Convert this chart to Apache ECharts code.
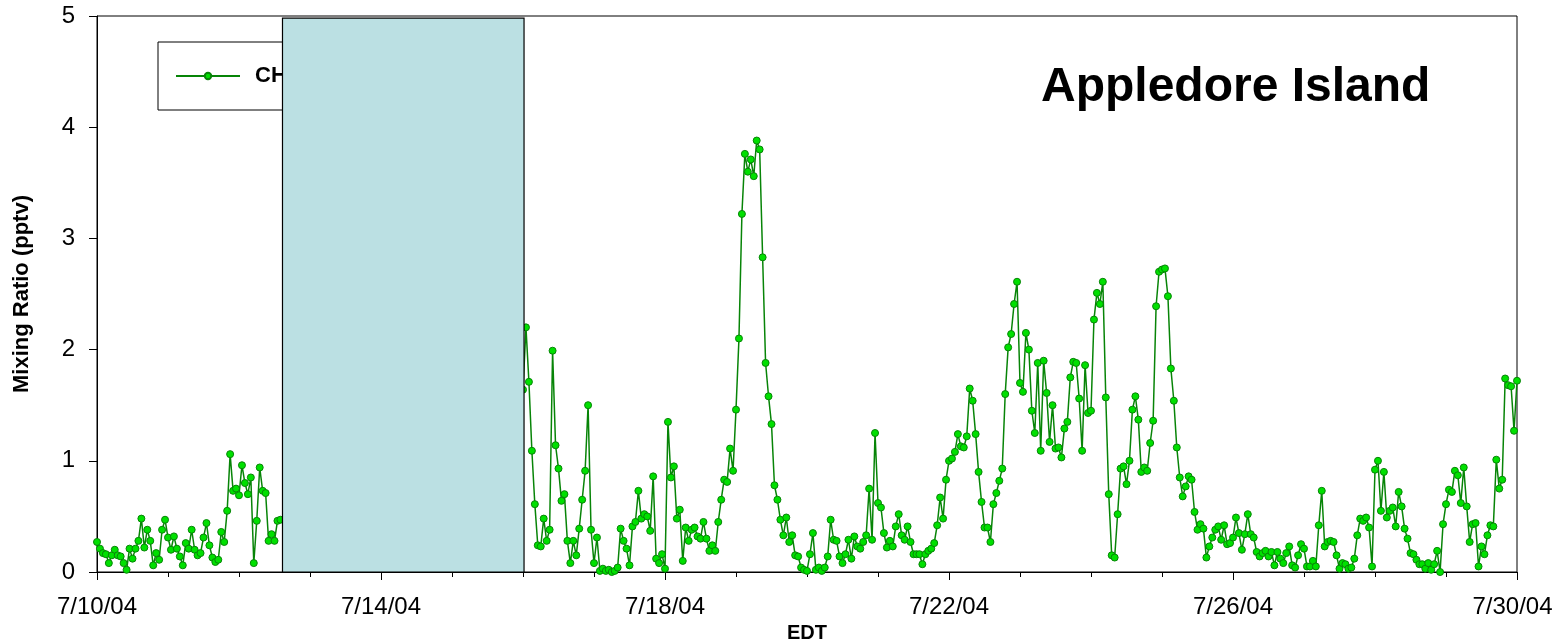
<!DOCTYPE html>
<html>
<head>
<meta charset="utf-8">
<title>Appledore Island</title>
<script src="https://cdn.jsdelivr.net/npm/echarts@6/dist/echarts.min.js"></script>
<style>
  html, body { margin: 0; padding: 0; background: #fff; }
  #chart { width: 1554px; height: 643px; }
</style>
</head>
<body>
<div id="chart"></div>
<script>
// Hourly mixing ratios (pptv), hours counted from 7/10/04 00:00 EDT
const runAStartHour = 0;
const runAValues = [
  0.27, 0.21, 0.17, 0.16, 0.08, 0.15, 0.20, 0.15, 0.14, 0.08,
  0.02, 0.21, 0.12, 0.21, 0.28, 0.48, 0.22, 0.38, 0.28, 0.06,
  0.17, 0.11, 0.38, 0.47, 0.31, 0.20, 0.32, 0.21, 0.14, 0.06,
  0.26, 0.21, 0.38, 0.20, 0.15, 0.17, 0.31, 0.44, 0.24, 0.13,
  0.09, 0.11, 0.36, 0.27, 0.55, 1.06, 0.73, 0.75, 0.69, 0.96,
  0.80, 0.70, 0.85, 0.08, 0.46, 0.94, 0.73, 0.71, 0.28, 0.34,
  0.28, 0.46, 0.47
];

const runBStartHour = 144;
const runBValues = [
  1.64, 2.20, 1.71, 1.09, 0.61, 0.24, 0.23, 0.48, 0.28, 0.38,
  1.99, 1.14, 0.93, 0.64, 0.70, 0.28, 0.08, 0.28, 0.15, 0.39,
  0.65, 0.91, 1.50, 0.38, 0.08, 0.31, 0.01, 0.03, 0.01, 0.02,
  0.00, 0.01, 0.04, 0.39, 0.28, 0.21, 0.06, 0.41, 0.45, 0.73,
  0.48, 0.52, 0.50, 0.37, 0.86, 0.12, 0.08, 0.16, 0.03, 1.35,
  0.85, 0.95, 0.48, 0.56, 0.10, 0.40, 0.28, 0.38, 0.40,
  0.32, 0.30, 0.45, 0.30, 0.19, 0.24, 0.19, 0.45, 0.65, 0.83,
  0.81, 1.11, 0.91, 1.46, 2.10, 3.22, 3.76, 3.60, 3.71, 3.56,
  3.88, 3.80, 2.83, 1.88, 1.58, 1.33, 0.78, 0.65, 0.47, 0.33,
  0.49, 0.27,
  0.33, 0.15, 0.14, 0.04, 0.02, 0.01, 0.16, 0.35, 0.02, 0.04,
  0.01, 0.04, 0.14, 0.47, 0.29, 0.28, 0.14, 0.08, 0.16, 0.29,
  0.12, 0.32, 0.23, 0.21, 0.27, 0.33, 0.75, 0.29, 1.25, 0.62,
  0.58, 0.35, 0.22, 0.28, 0.23, 0.41, 0.52, 0.33, 0.29, 0.41,
  0.27, 0.16, 0.16, 0.16, 0.07, 0.16, 0.19, 0.21, 0.26, 0.42,
  0.67, 0.48, 0.83, 1.00, 1.02, 1.08, 1.24, 1.13,
  1.12, 1.22, 1.65, 1.54, 1.24, 0.90, 0.63, 0.40, 0.40, 0.27,
  0.61, 0.71, 0.82, 0.93, 1.60, 2.02, 2.14, 2.41, 2.61, 1.70,
  1.62, 2.15, 2.00, 1.45, 1.25, 1.88, 1.09, 1.90, 1.61, 1.17,
  1.50, 1.11, 1.12, 1.03, 1.29, 1.35, 1.75,
  1.89, 1.88, 1.56, 1.09, 1.86, 1.43, 1.45, 2.27, 2.51, 2.41,
  2.61, 1.57, 0.70, 0.15, 0.13, 0.52, 0.93, 0.95, 0.79, 1.00,
  1.46, 1.58, 1.37, 0.90, 0.94, 0.91, 1.16, 1.36, 2.39, 2.70,
  2.72, 2.73, 2.48, 1.83, 1.54, 1.12, 0.85, 0.68,
  0.77, 0.86, 0.83, 0.54, 0.38, 0.43, 0.39, 0.13, 0.23, 0.31,
  0.38, 0.41, 0.29, 0.42, 0.25, 0.26, 0.31, 0.49, 0.35, 0.20,
  0.34, 0.52, 0.34,
  0.31, 0.18, 0.14, 0.17, 0.19, 0.14, 0.18, 0.06, 0.18, 0.12,
  0.08, 0.17, 0.23, 0.06, 0.04, 0.15, 0.25, 0.21, 0.05, 0.05,
  0.10, 0.05, 0.42, 0.73, 0.23, 0.27, 0.28, 0.27, 0.15, 0.03,
  0.08, 0.07, 0.03, 0.04, 0.12, 0.33, 0.48, 0.46, 0.49, 0.40,
  0.05, 0.92, 1.00, 0.55, 0.90, 0.49, 0.55, 0.58, 0.41, 0.72,
  0.59, 0.39, 0.30, 0.17, 0.16, 0.11, 0.07, 0.07, 0.03, 0.08,
  0.02, 0.07, 0.19, 0.00, 0.43, 0.61, 0.74, 0.72, 0.91, 0.87,
  0.62, 0.94, 0.59, 0.27, 0.43, 0.44, 0.05, 0.23, 0.16, 0.33,
  0.42, 0.41, 1.01, 0.75, 0.83, 1.74, 1.68, 1.67, 1.27, 1.72
];

// Shaded period: [start hour, end hour, top value]
const shadedPeriod = [62.7, 144.35, 4.98];

const seriesName = 'CHBr3';
const firstDay = 10;      // 7/10/04
const hourSpan = 480;     // through 7/30/04
const labelEveryHours = 96;

const FONT = '"Liberation Sans", Arial, sans-serif';

// Build [hour, value] pairs; a '-' entry breaks the line between runs
const points = [];
runAValues.forEach((v, i) => points.push([runAStartHour + i, v]));
points.push([(runAStartHour + runAValues.length + runBStartHour) / 2, '-']);
runBValues.forEach((v, i) => points.push([runBStartHour + i, v]));

function dateLabel(h) {
  if (h % labelEveryHours !== 0) return '';
  const text = '7/' + (firstDay + h / 24) + '/04';
  // nudge the final label inward so it stays on the canvas
  return h === hourSpan ? '{last|' + text + '}' : text;
}

const chart = echarts.init(document.getElementById('chart'), null, { renderer: 'canvas' });

chart.setOption({
  animation: false,
  backgroundColor: '#ffffff',
  textStyle: { fontFamily: FONT, color: '#000' },
  grid: {
    left: 97, right: 37, top: 16, bottom: 71,
    outerBoundsMode: 'none',
    containLabel: false,
    show: true, borderColor: '#000', borderWidth: 1, backgroundColor: 'transparent'
  },
  title: {
    text: 'Appledore Island',
    left: 1036, top: 59,
    textStyle: { fontFamily: FONT, fontWeight: 'bold', fontSize: 48, color: '#000' }
  },
  legend: {
    data: [seriesName],
    left: 158, top: 42, z: 3,
    itemWidth: 64, itemHeight: 8,
    padding: [23, 20, 23, 17],
    backgroundColor: '#ffffff',
    borderColor: '#000', borderWidth: 1, borderRadius: 0,
    textStyle: { fontFamily: FONT, fontWeight: 'bold', fontSize: 22, color: '#000', padding: [0, 0, 0, 10] }
  },
  xAxis: [
    {
      type: 'value', min: 0, max: hourSpan, interval: labelEveryHours,
      position: 'bottom',
      name: 'EDT', nameLocation: 'middle', nameGap: 43,
      nameTextStyle: { fontFamily: FONT, fontWeight: 'bold', fontSize: 20, color: '#000' },
      axisLine: { onZero: false, lineStyle: { color: '#000', width: 1 } },
      axisTick: { show: true, length: 8, inside: false, lineStyle: { color: '#000', width: 1 } },
      axisLabel: {
        formatter: dateLabel, fontFamily: FONT, fontSize: 24, color: '#000', margin: 23,
        rich: { last: { fontFamily: FONT, fontSize: 24, color: '#000', padding: [0, 9, 0, 0] } }
      },
      splitLine: { show: false }
    },
    {
      type: 'value', min: 0, max: hourSpan, interval: 24,
      position: 'bottom',
      axisLine: { show: false },
      axisTick: { show: true, length: 5, lineStyle: { color: '#000', width: 1 } },
      axisLabel: { show: false },
      splitLine: { show: false }
    }
  ],
  yAxis: {
    type: 'value', min: 0, max: 5, interval: 1,
    name: 'Mixing Ratio (pptv)', nameLocation: 'middle', nameGap: 64,
    nameTextStyle: { fontFamily: FONT, fontWeight: 'bold', fontSize: 22, color: '#000' },
    axisLine: { show: true, lineStyle: { color: '#000', width: 1 } },
    axisTick: { show: true, length: 8, lineStyle: { color: '#000', width: 1 } },
    axisLabel: { fontFamily: FONT, fontSize: 24, color: '#000', margin: 22 },
    splitLine: { show: false }
  },
  series: [
    {
      name: seriesName,
      type: 'line',
      xAxisIndex: 0,
      data: points,
      z: 2,
      connectNulls: false,
      symbol: 'circle',
      symbolSize: 7,
      showSymbol: true,
      showAllSymbol: true,
      lineStyle: { color: '#078407', width: 1.5 },
      itemStyle: { color: '#00E000', borderColor: '#078407', borderWidth: 1 }
    },
    {
      name: 'shaded',
      type: 'custom',
      xAxisIndex: 0,
      z: 5,
      silent: true,
      clip: false,
      data: [shadedPeriod],
      encode: { x: [0, 1], y: 2 },
      renderItem: function (params, api) {
        const topLeft = api.coord([api.value(0), api.value(2)]);
        const bottomRight = api.coord([api.value(1), 0]);
        return {
          type: 'rect',
          shape: {
            x: topLeft[0], y: topLeft[1],
            width: bottomRight[0] - topLeft[0],
            height: bottomRight[1] - topLeft[1]
          },
          style: { fill: '#BBE0E3', stroke: '#000', lineWidth: 1.2 }
        };
      }
    }
  ]
});
</script>
</body>
</html>
